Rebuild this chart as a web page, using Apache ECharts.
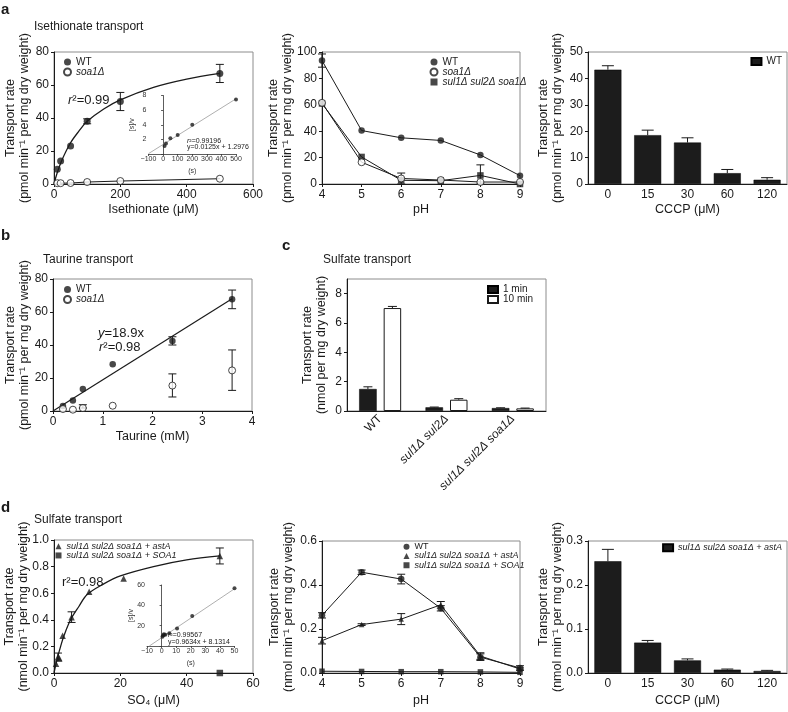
<!DOCTYPE html>
<html><head><meta charset="utf-8">
<script src="https://cdn.jsdelivr.net/npm/echarts@6/dist/echarts.min.js"></script>
<style>html,body{margin:0;padding:0;background:#fff}#chart{width:788px;height:712px}</style>
</head><body><div id="chart"></div>
<script>
// ---------------- data ----------------
const a1Conc = [10, 20, 50, 100, 200, 500];
const a1WT = [9, 14, 23, 38, 50, 67];
const a1WTErr = [[100, 36.5, 39.5], [200, 44.5, 55.5], [500, 61.5, 72.5]];
const a1Soa = [0.5, 0.5, 0.6, 1.2, 1.8, 3.2];
const a1Fit = [[0,0],[10,7],[25,15],[50,25],[75,32],[100,38],[150,45.5],[200,51],[300,58.5],[400,63.5],[500,67]];
const a1InsetPts = [1.1, 1.45, 2.15, 2.6, 4.0, 7.45];
const a1InsetLine = [[-100, 0.05], [500, 7.55]];

const pH = [4, 5, 6, 7, 8, 9];
const a2WT = [93.5, 40.5, 35, 33, 22, 6.3];
const a2Soa = [61.5, 16.5, 4.2, 3, 1.5, 1.5];
const a2Sul = [61, 20.5, 2.8, 2.5, 6.5, 0];
const a2Err = [[4, 88.5, 98.5], [6, 0, 8.3], [8, 0, 14.5]];

const cccp = ['0', '15', '30', '60', '120'];
const a3WT = [43.3, 18.5, 15.7, 4.1, 1.6];
const a3Top = [44.8, 20.4, 17.5, 5.5, 2.4];

const taurine = [0.2, 0.4, 0.6, 1.2, 2.4, 3.6];
const bWT = [3, 6.3, 13.3, 28.3, 42.4, 67.7];
const bSoa = [1.2, 0.8, 1.8, 3.2, 15.4, 24.6];
const bErr = [[2.4, 40, 45], [3.6, 62, 73.3], [0.6, 1.8, 3.8], [2.4, 8.5, 22.5], [3.6, 12.5, 37]];
const bFit = [[0, 0], [3.6, 68]];

const cStrains = ['WT', 'sul1Δ sul2Δ', 'sul1Δ sul2Δ soa1Δ'];
const c1min = [1.5, 0.25, 0.2];
const c1minTop = [1.65, 0.27, 0.22];
const c10min = [7.02, 0.77, 0.18];
const c10minTop = [7.13, 0.84, 0.2];

const dSO4 = [0.6, 1.2, 1.6, 2.6, 5.3, 10.6, 21, 50];
const dAstA = [0.07, 0.12, 0.11, 0.28, 0.42, 0.61, 0.71, 0.88];
const dAstAErr = [[1.2, 0.09, 0.15], [5.3, 0.38, 0.46], [50, 0.82, 0.94]];
const dSOA1 = [[50, 0]];
const dFit = [[0,0],[1,0.11],[2,0.2],[3,0.28],[5,0.4],[7.5,0.5],[10,0.59],[15,0.67],[20,0.73],[30,0.8],[40,0.85],[50,0.88]];
const dInsetPts = [9, 10.5, 11.5, 11, 12.5, 17.3, 29.6, 56.8];
const dInsetLine = [[-8.4, 0], [50, 56.3]];

const d2WT = [0.262, 0.458, 0.427, 0.294, 0.072, 0.023];
const d2WTErr = [0.012, 0.01, 0.022, 0.012, 0.015, 0.01];
const d2AstA = [0.147, 0.22, 0.245, 0.31, 0.077, 0.018];
const d2AstAErr = [0.015, 0.004, 0.025, 0.015, 0.015, 0.005];
const d2SOA1 = [0.008, 0.007, 0.006, 0.006, 0.005, 0.003];

const d3Vals = [0.254, 0.069, 0.0286, 0.0075, 0.0045];
const d3Top = [0.281, 0.074, 0.032, 0.009, 0.006];

// ---------------- helpers ----------------
const FONT = '"Liberation Sans", Arial, Helvetica, sans-serif';
const INK = '#1a1a1a';
const pairs = (xs, ys) => xs.map((x, i) => [x, ys[i]]);

function merge(a, b) {
  const out = Array.isArray(a) ? a.slice() : Object.assign({}, a);
  for (const k in b) {
    const v = b[k];
    if (v && typeof v === 'object' && !Array.isArray(v) && typeof v !== 'function' && out[k] && typeof out[k] === 'object' && !Array.isArray(out[k])) out[k] = merge(out[k], v);
    else out[k] = v;
  }
  return out;
}
function baseAxis(gi) {
  return {
    gridIndex: gi, splitLine: {show: false},
    axisLine: {show: true, onZero: false, lineStyle: {color: INK, width: 1}},
    axisTick: {show: true, length: 3, lineStyle: {color: INK}},
    axisLabel: {color: INK, fontSize: 12, margin: 5, fontFamily: FONT},
    nameTextStyle: {color: INK, fontSize: 12.5, fontFamily: FONT, lineHeight: 14},
    nameLocation: 'middle', nameMoveOverlap: false
  };
}
function valAxis(gi, min, max, interval, o) {
  return merge(merge(baseAxis(gi), {type: 'value', min, max, interval}), o || {});
}
function catAxis(gi, data, o) {
  return merge(merge(baseAxis(gi), {type: 'category', data, axisTick: {show: false}}), o || {});
}
const dec1 = v => v.toFixed(1);
const yName = (unit) => 'Transport rate\n(' + unit + ')';
const inset = {
  axisLine: {onZero: true, lineStyle: {color: '#333', width: 0.8}},
  axisTick: {length: 2, lineStyle: {color: '#333', width: 0.8}},
  axisLabel: {fontSize: 7, margin: 2, color: '#333'},
  nameTextStyle: {fontSize: 7, color: '#333'}
};

function lineS(gi, data, o) {
  o = o || {};
  return {type: 'line', xAxisIndex: gi, yAxisIndex: gi, data, showSymbol: false, symbol: 'none',
    smooth: o.smooth || false, silent: true, z: 2,
    lineStyle: {color: o.color || INK, width: o.width || 1}};
}
function scat(name, gi, data, symbol, size, filled) {
  return {type: 'scatter', name, xAxisIndex: gi, yAxisIndex: gi, data, symbol, symbolSize: size, z: 5,
    itemStyle: filled ? {color: INK, borderWidth: 0} : {color: '#fff', borderColor: INK, borderWidth: 1}};
}
function errS(gi, data, cap, both, dx) {
  return {type: 'custom', xAxisIndex: gi, yAxisIndex: gi, data, z: 4, silent: true,
    encode: {x: 0, y: [1, 2]},
    renderItem: (params, api) => {
      const lo = api.coord([api.value(0), api.value(1)]);
      const hi = api.coord([api.value(0), api.value(2)]);
      const x = lo[0] + (dx || 0), h = cap / 2;
      const st = {stroke: INK, lineWidth: 1};
      const ch = [
        {type: 'line', shape: {x1: x, y1: lo[1], x2: x, y2: hi[1]}, style: st},
        {type: 'line', shape: {x1: x - h, y1: hi[1], x2: x + h, y2: hi[1]}, style: st}
      ];
      if (both) ch.push({type: 'line', shape: {x1: x - h, y1: lo[1], x2: x + h, y2: lo[1]}, style: st});
      return {type: 'group', children: ch};
    }};
}
function barS(name, gi, data, o) {
  return merge({type: 'bar', name, xAxisIndex: gi, yAxisIndex: gi, data, z: 3, silent: true,
    itemStyle: {color: '#1c1c1c', borderColor: '#000', borderWidth: 0.5}}, o || {});
}

const IT = 'sul1Δ sul2Δ soa1Δ';
const LG = {
  a1WT: 'WT', a1soa: '{i|soa1Δ}',
  a2WT: 'WT', a2soa: '{i|soa1Δ}', a2sul: '{i|' + IT + '}',
  a3WT: 'WT', bWT: 'WT', bSoa: '{i|soa1Δ}',
  c1: '1 min', c10: '10 min',
  d1astA: '{i|' + IT + ' + astA}', d1SOA1: '{i|' + IT + ' + SOA1}',
  d2WT: 'WT', d2astA: '{i|' + IT + ' + astA}', d2SOA1: '{i|' + IT + ' + SOA1}',
  d3b: '{i|' + IT + ' + astA}'
};
function leg(data, pos, fs, iw, ih) {
  return Object.assign({
    orient: 'vertical', padding: 0, itemGap: 0, itemWidth: iw || 7, itemHeight: ih || 7,
    selectedMode: false, data, formatter: n => LG[n],
    textStyle: {fontSize: fs, lineHeight: 9.3, color: INK, fontFamily: FONT,
      rich: {i: {fontStyle: 'italic', fontSize: fs, lineHeight: 9.3, color: INK, fontFamily: FONT}}}
  }, pos);
}
function txt(x, y, text, fs, extra) {
  return {type: 'text', x, y, silent: true, z: 10,
    style: Object.assign({text, fontSize: fs, fontFamily: FONT, fill: INK, align: 'left', verticalAlign: 'middle',
      rich: {i: {fontStyle: 'italic', fontSize: fs, fontFamily: FONT, fill: INK}}}, extra || {})};
}

// ---------------- option ----------------
const frame = {show: true, borderColor: '#8c8c8c', borderWidth: 1, backgroundColor: 'transparent'};
const option = {
  animation: false,
  backgroundColor: '#fff',
  textStyle: {fontFamily: FONT},
  grid: [
    Object.assign({left: 54, top: 52, width: 199, height: 132}, frame),
    {left: 148.5, top: 95.5, width: 87.5, height: 58.5},
    Object.assign({left: 322, top: 52, width: 198, height: 132}, frame),
    Object.assign({left: 588, top: 52, width: 199, height: 132}, frame),
    Object.assign({left: 53, top: 279, width: 199, height: 132}, frame),
    Object.assign({left: 347, top: 279, width: 199, height: 132}, frame),
    Object.assign({left: 54, top: 540, width: 199, height: 133}, frame),
    {left: 147, top: 585, width: 87.5, height: 61},
    Object.assign({left: 322, top: 541, width: 198, height: 132}, frame),
    Object.assign({left: 588, top: 541, width: 199, height: 132}, frame)
  ],
  xAxis: [
    valAxis(0, 0, 600, 200, {name: 'Isethionate (μM)', nameGap: 19}),
    valAxis(1, -100, 500, 100, merge(inset, {name: '(s)', nameGap: 10,
      axisLabel: {formatter: v => v < 0 ? '−' + Math.abs(v) : String(v)}})),
    valAxis(2, 4, 9, 1, {name: 'pH', nameGap: 19}),
    catAxis(3, cccp, {name: 'CCCP (μM)', nameGap: 19}),
    valAxis(4, 0, 4, 1, {name: 'Taurine (mM)', nameGap: 19}),
    catAxis(5, cStrains, {axisLabel: {rotate: 45, margin: 6,
      formatter: v => v === 'WT' ? v : '{i|' + v + '}',
      rich: {i: {fontStyle: 'italic', fontSize: 12, color: INK, fontFamily: FONT}}}}),
    valAxis(6, 0, 60, 20, {name: 'SO₄ (μM)', nameGap: 21}),
    valAxis(7, -10, 50, 10, merge(inset, {name: '(s)', nameGap: 10,
      axisLabel: {formatter: v => v < 0 ? '−' + Math.abs(v) : String(v)}})),
    valAxis(8, 4, 9, 1, {name: 'pH', nameGap: 21}),
    catAxis(9, cccp, {name: 'CCCP (μM)', nameGap: 21})
  ],
  yAxis: [
    valAxis(0, 0, 80, 20, {name: yName('pmol min⁻¹ per mg dry weight'), nameRotate: 90, nameGap: 22}),
    valAxis(1, 0, 8, 2, merge(inset, {name: '[s]/v', nameRotate: 90, nameGap: 9,
      axisLabel: {formatter: v => v === 0 ? '' : String(v)}})),
    valAxis(2, 0, 100, 20, {name: yName('pmol min⁻¹ per mg dry weight'), nameRotate: 90, nameGap: 27}),
    valAxis(3, 0, 50, 10, {name: yName('pmol min⁻¹ per mg dry weight'), nameRotate: 90, nameGap: 23}),
    valAxis(4, 0, 80, 20, {name: yName('pmol min⁻¹ per mg dry weight'), nameRotate: 90, nameGap: 21}),
    valAxis(5, 0, 9, 2, {name: yName('nmol per mg dry weight'), nameRotate: 90, nameGap: 18.5,
      axisLabel: {customValues: [0, 2, 4, 6, 8]}, axisTick: {customValues: [0, 2, 4, 6, 8]}}),
    valAxis(6, 0, 1, 0.2, {name: yName('nmol min⁻¹ per mg dry weight'), nameRotate: 90, nameGap: 23.5,
      axisLabel: {formatter: dec1}}),
    valAxis(7, 0, 60, 20, merge(inset, {name: '[s]/v', nameRotate: 90, nameGap: 9,
      axisLabel: {formatter: v => v === 0 ? '' : String(v)}})),
    valAxis(8, 0, 0.6, 0.2, {name: yName('nmol min⁻¹ per mg dry weight'), nameRotate: 90, nameGap: 26.5,
      axisLabel: {formatter: dec1}}),
    valAxis(9, 0, 0.3, 0.1, {name: yName('nmol min⁻¹ per mg dry weight'), nameRotate: 90, nameGap: 23.5,
      axisLabel: {formatter: dec1}})
  ],
  legend: [
    leg(['a1WT', 'a1soa'], {left: 63, top: 57}, 10),
    leg(['a2WT', 'a2soa', 'a2sul'], {left: 429.5, top: 57}, 10),
    leg([{name: 'a3WT', icon: 'rect'}], {right: 6, top: 56.5}, 10, 10, 7),
    leg(['bWT', 'bSoa'], {left: 63, top: 284.5}, 10),
    leg([{name: 'c1', icon: 'rect'}, {name: 'c10', icon: 'rect'}], {left: 487, top: 284.5}, 10, 10, 7),
    leg(['d1astA', 'd1SOA1'], {left: 55.5, top: 541.5}, 9, 6, 6),
    leg(['d2WT', 'd2astA', 'd2SOA1'], {left: 403.5, top: 542}, 9, 6, 6),
    leg([{name: 'd3b', icon: 'rect'}], {right: 6, top: 543}, 9, 10, 7)
  ],
  series: [
    // a1
    lineS(0, a1Fit, {width: 1.3, smooth: 0.35}),
    lineS(0, pairs(a1Conc, a1Soa), {width: 1}),
    errS(0, a1WTErr, 8, true),
    scat('a1WT', 0, pairs(a1Conc, a1WT), 'circle', 7, true),
    scat('a1soa', 0, pairs(a1Conc, a1Soa), 'circle', 7, false),
    lineS(1, a1InsetLine, {width: 0.8, color: '#9a9a9a'}),
    scat('a1in', 1, pairs(a1Conc, a1InsetPts), 'circle', 4, true),
    // a2
    lineS(2, pairs(pH, a2WT)),
    lineS(2, pairs(pH, a2Sul)),
    lineS(2, pairs(pH, a2Soa)),
    errS(2, a2Err, 8, true),
    scat('a2WT', 2, pairs(pH, a2WT), 'circle', 6.5, true),
    scat('a2sul', 2, pairs(pH, a2Sul), 'rect', 6.5, true),
    scat('a2soa', 2, pairs(pH, a2Soa), 'circle', 7, false),
    // a3
    barS('a3WT', 3, a3WT, {barWidth: 27}),
    errS(3, a3WT.map((v, i) => [i, v, a3Top[i]]), 12, false),
    // b
    lineS(4, bFit, {width: 1.2}),
    errS(4, bErr, 8, true),
    scat('bWT', 4, pairs(taurine, bWT), 'circle', 6.5, true),
    scat('bSoa', 4, pairs(taurine, bSoa), 'circle', 7, false),
    // c
    barS('c1', 5, c1min, {barWidth: 17.5, barGap: '40%'}),
    barS('c10', 5, c10min, {barWidth: 17.5, barGap: '40%', itemStyle: {color: '#fff', borderColor: INK, borderWidth: 1}}),
    errS(5, c1min.map((v, i) => [i, v, c1minTop[i]]), 9, false, -12.25),
    errS(5, c10min.map((v, i) => [i, v, c10minTop[i]]), 9, false, 12.25),
    // d1
    lineS(6, dFit, {width: 1.3, smooth: 0.35}),
    errS(6, dAstAErr, 8, true),
    scat('d1astA', 6, pairs(dSO4, dAstA), 'triangle', 6.5, true),
    scat('d1SOA1', 6, dSOA1, 'rect', 6.5, true),
    lineS(7, dInsetLine, {width: 0.8, color: '#9a9a9a'}),
    scat('d1in', 7, pairs(dSO4, dInsetPts), 'circle', 4, true),
    // d2
    lineS(8, pairs(pH, d2WT)),
    lineS(8, pairs(pH, d2AstA)),
    lineS(8, pairs(pH, d2SOA1)),
    errS(8, pH.map((x, i) => [x, d2WT[i] - d2WTErr[i], d2WT[i] + d2WTErr[i]]), 8, true),
    errS(8, pH.map((x, i) => [x, d2AstA[i] - d2AstAErr[i], d2AstA[i] + d2AstAErr[i]]), 8, true),
    scat('d2WT', 8, pairs(pH, d2WT), 'circle', 6.5, true),
    scat('d2astA', 8, pairs(pH, d2AstA), 'triangle', 5.5, true),
    scat('d2SOA1', 8, pairs(pH, d2SOA1), 'rect', 5.5, true),
    // d3
    barS('d3b', 9, d3Vals, {barWidth: 27}),
    errS(9, d3Vals.map((v, i) => [i, v, d3Top[i]]), 12, false)
  ],
  graphic: [
    txt(1, 10, 'a', 15, {fontWeight: 'bold'}),
    txt(34, 27, 'Isethionate transport', 12),
    txt(68, 100, '{i|r}²=0.99', 13),
    txt(187, 141, '{i|r}²=0.99196', 7, {rich: {i: {fontStyle: 'italic', fontSize: 7, fontFamily: FONT, fill: INK}}}),
    txt(187, 147, 'y=0.0125x + 1.2976', 7),
    txt(1, 236, 'b', 15, {fontWeight: 'bold'}),
    txt(43, 260, 'Taurine transport', 12),
    txt(98, 333, '{i|y}=18.9x', 13),
    txt(99, 347, '{i|r}²=0.98', 13),
    txt(282, 246, 'c', 15, {fontWeight: 'bold'}),
    txt(323, 260, 'Sulfate transport', 12),
    txt(1, 508, 'd', 15, {fontWeight: 'bold'}),
    txt(34, 520, 'Sulfate transport', 12),
    txt(62, 582, 'r²=0.98', 13),
    txt(168, 635.5, '{i|r}²=0.99567', 7, {rich: {i: {fontStyle: 'italic', fontSize: 7, fontFamily: FONT, fill: INK}}}),
    txt(168, 642.5, 'y=0.9634x + 8.1314', 7)
  ]
};

const chart = echarts.init(document.getElementById('chart'), null, {renderer: 'canvas'});
chart.setOption(option);
</script>
</body></html>
